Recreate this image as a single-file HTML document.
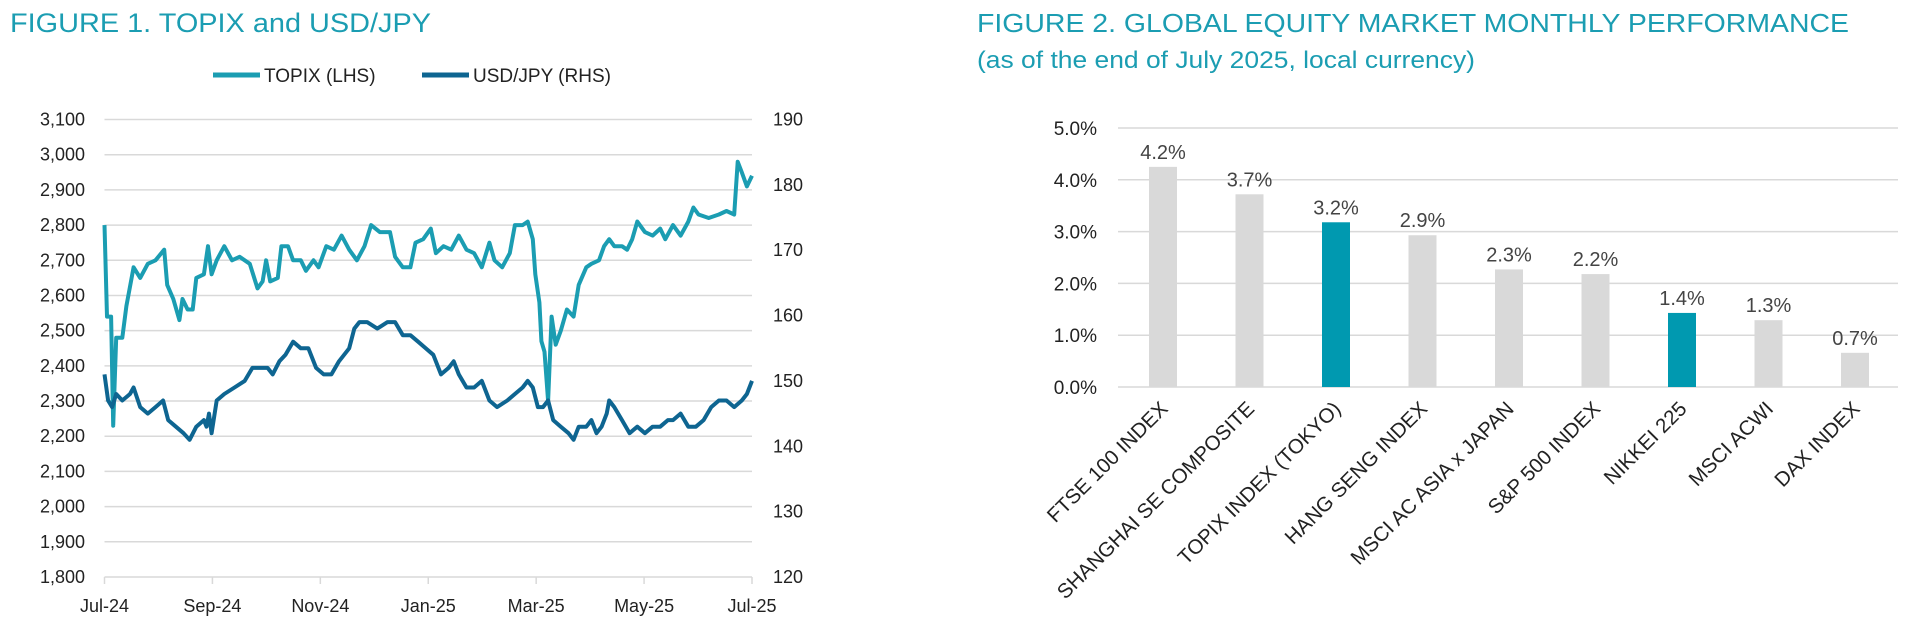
<!DOCTYPE html>
<html><head><meta charset="utf-8"><style>
html,body{margin:0;padding:0;background:#fff;width:1920px;height:633px;overflow:hidden}
svg{display:block;font-family:"Liberation Sans",Arial,sans-serif}
</style></head><body>
<svg id="s" width="1920" height="633" viewBox="0 0 1920 633" xmlns="http://www.w3.org/2000/svg">
<text x="10" y="32" font-size="27" fill="#1b9db2" textLength="421" lengthAdjust="spacingAndGlyphs">FIGURE 1. TOPIX and USD/JPY</text>
<line x1="213" y1="75" x2="260" y2="75" stroke="#1b9db2" stroke-width="5"/>
<text x="264" y="82" font-size="19" fill="#222">TOPIX (LHS)</text>
<line x1="422" y1="75" x2="469" y2="75" stroke="#0e6591" stroke-width="5"/>
<text x="473" y="82" font-size="19" fill="#222">USD/JPY (RHS)</text>
<g id="grid1" stroke="#d9d9d9" stroke-width="1.5"></g>
<g id="lab1" font-size="18" fill="#222"></g>
<polyline id="topix" fill="none" stroke="#1b9db2" stroke-width="4" stroke-linejoin="round"/>
<polyline id="usd" fill="none" stroke="#0e6591" stroke-width="4" stroke-linejoin="round"/>

<text x="977" y="32" font-size="26" fill="#1b9db2" textLength="872" lengthAdjust="spacingAndGlyphs">FIGURE 2. GLOBAL EQUITY MARKET MONTHLY PERFORMANCE</text>
<text x="977" y="68" font-size="24" fill="#1b9db2" textLength="498" lengthAdjust="spacingAndGlyphs">(as of the end of July 2025, local currency)</text>
<g id="g2"></g>
</svg>
<script>
var NS="http://www.w3.org/2000/svg";
function el(p,t,a,txt){var e=document.createElementNS(NS,t);for(var k in a)e.setAttribute(k,a[k]);if(txt!=null)e.textContent=txt;p.appendChild(e);return e;}
var g1=document.getElementById('grid1'),l1=document.getElementById('lab1');
var L=104.5,R=752,T=119.5,B=577,step=(B-T)/13;
for(var i=0;i<=13;i++){var y=T+i*step;el(g1,'line',{x1:L,x2:R,y1:y,y2:y});
 var v=3100-i*100;el(l1,'text',{x:85,y:y+6,'text-anchor':'end'},v.toLocaleString('en-US'));}
for(var i=0;i<=7;i++){var y=T+i*(B-T)/7;el(l1,'text',{x:773,y:y+6},String(190-i*10));}
var mons=['Jul-24','Sep-24','Nov-24','Jan-25','Mar-25','May-25','Jul-25'];
for(var i=0;i<7;i++){var x=L+i*(R-L)/6;el(g1,'line',{x1:x,x2:x,y1:B,y2:B+7});el(l1,'text',{x:x,y:612,'text-anchor':'middle'},mons[i]);}
function X(z){return L+(z-205)/1270*(R-L);}
var tp=[205,2800,210,2540,218,2540,222,2230,228,2480,240,2480,248,2570,262,2680,275,2650,290,2690,305,2700,322,2730,328,2630,340,2590,352,2530,358,2590,368,2560,378,2560,385,2650,400,2660,408,2740,415,2660,425,2700,440,2740,455,2700,470,2710,490,2690,505,2620,515,2640,522,2700,530,2640,545,2650,552,2740,565,2740,575,2700,590,2700,600,2670,615,2700,625,2680,640,2740,655,2730,670,2770,685,2730,700,2700,715,2740,728,2800,745,2780,765,2780,775,2710,790,2680,805,2680,815,2750,830,2760,845,2790,855,2720,870,2740,885,2730,900,2770,915,2730,930,2720,945,2680,960,2750,970,2700,985,2680,1000,2720,1010,2800,1025,2800,1035,2810,1045,2760,1050,2660,1058,2580,1062,2470,1068,2440,1075,2300,1082,2540,1090,2460,1100,2500,1112,2560,1125,2540,1135,2630,1150,2680,1160,2690,1175,2700,1185,2740,1195,2760,1205,2740,1220,2740,1230,2730,1240,2760,1250,2810,1265,2780,1280,2770,1295,2790,1305,2760,1320,2800,1335,2770,1350,2810,1360,2850,1370,2830,1390,2820,1410,2830,1425,2840,1440,2830,1447,2980,1455,2950,1465,2910,1475,2940];
var us=[205,151,212,147,220,146,228,148,240,147,255,148,262,149,275,146,290,145,305,146,320,147,330,144,345,143,360,142,372,141,385,143,400,144,405,143,410,145,415,142,425,147,440,148,460,149,480,150,495,152,510,152,525,152,535,151,548,153,560,154,575,156,590,155,605,155,620,152,635,151,650,151,665,153,685,155,695,158,705,159,720,159,740,158,760,159,775,159,790,157,805,157,820,156,835,155,850,154,865,151,880,152,890,153,900,151,915,149,930,149,945,150,960,147,975,146,995,147,1010,148,1025,149,1035,150,1045,149,1055,146,1065,146,1075,147,1085,144,1100,143,1115,142,1125,141,1135,143,1150,143,1160,144,1170,142,1180,143,1190,145,1195,147,1205,146,1220,144,1235,142,1250,143,1265,142,1280,143,1295,143,1310,144,1320,144,1335,145,1350,143,1365,143,1380,144,1395,146,1410,147,1425,147,1440,146,1455,147,1465,148,1475,150];
var p=[];for(var i=0;i<tp.length;i+=2)p.push(X(tp[i]).toFixed(1)+','+(T+(3100-tp[i+1])/100*step).toFixed(1));
document.getElementById('topix').setAttribute('points',p.join(' '));
p=[];for(var i=0;i<us.length;i+=2)p.push(X(us[i]).toFixed(1)+','+(T+(190-us[i+1])/70*(B-T)).toFixed(1));
document.getElementById('usd').setAttribute('points',p.join(' '));
var g2=document.getElementById('g2');
var T2=128,B2=387,u=(B2-T2)/5;
for(var i=0;i<=5;i++){var y=T2+i*u;el(g2,'line',{x1:1118,x2:1898,y1:y,y2:y,stroke:'#d9d9d9','stroke-width':1.5});
 el(g2,'text',{x:1097,y:y+7,'text-anchor':'end','font-size':19,fill:'#222'},(5-i)+'.0%');}
var names=['FTSE 100 INDEX','SHANGHAI SE COMPOSITE','TOPIX INDEX (TOKYO)','HANG SENG INDEX','MSCI AC ASIA x JAPAN','S&P 500 INDEX','NIKKEI 225','MSCI ACWI','DAX INDEX'];
var vals=[4.25,3.72,3.18,2.93,2.27,2.18,1.43,1.29,0.66],labs=['4.2%','3.7%','3.2%','2.9%','2.3%','2.2%','1.4%','1.3%','0.7%'];
for(var i=0;i<9;i++){var c=1163+i*86.5,h=vals[i]*u,col=(i==2||i==6)?'#0099b0':'#d9d9d9';
 el(g2,'rect',{x:c-14,y:B2-h,width:28,height:h,fill:col});
 el(g2,'text',{x:c,y:B2-h-8,'text-anchor':'middle','font-size':20,fill:'#444'},labs[i]);
 el(g2,'text',{x:0,y:0,'text-anchor':'end','font-size':20.5,fill:'#222',transform:'translate('+(c+6)+',410) rotate(-45)'},names[i]);}
</script>
</body></html>
